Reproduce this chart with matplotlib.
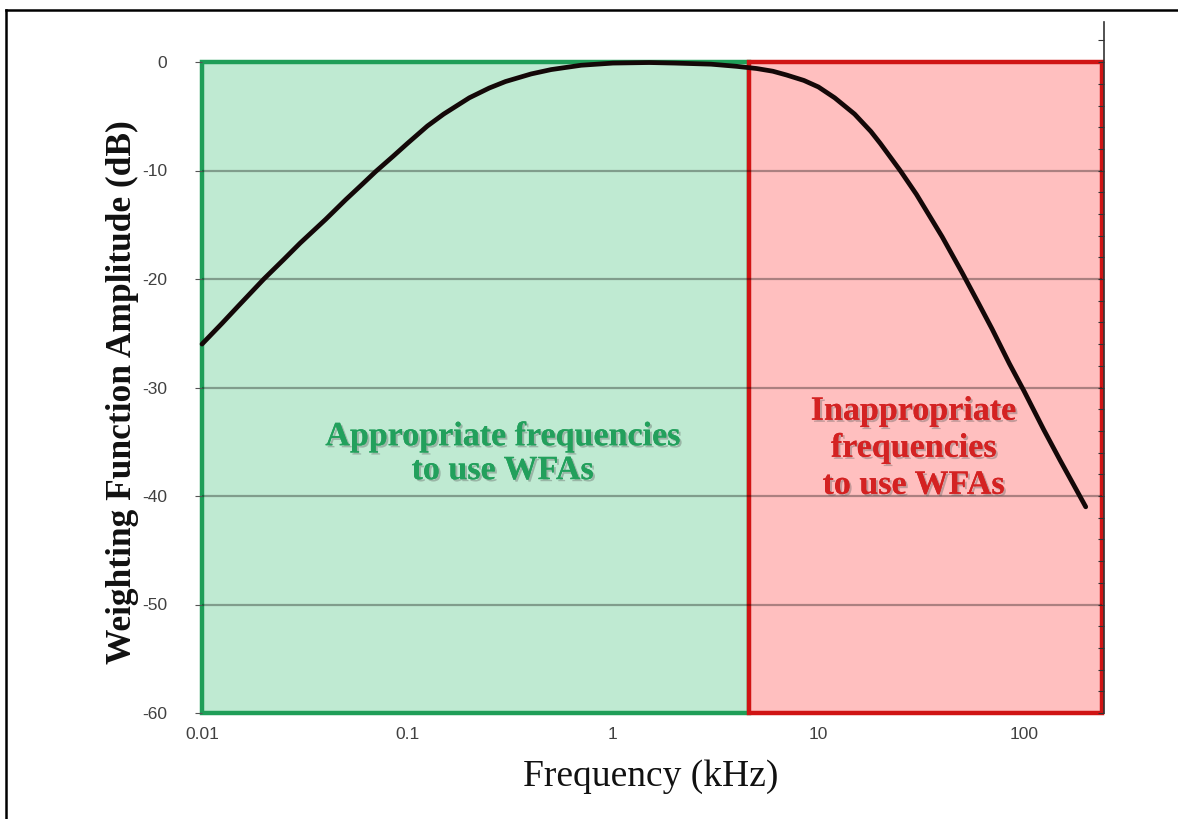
import numpy as np
import matplotlib.pyplot as plt
import matplotlib.patheffects as pe
from matplotlib.patches import Rectangle
from matplotlib.lines import Line2D

plt.rcParams['axes.unicode_minus'] = False

# curva da função de ponderação
freq_khz = [0.01, 0.0125, 0.015, 0.02, 0.025, 0.03, 0.04, 0.05, 0.06, 0.07, 0.085,
            0.1, 0.125, 0.15, 0.2, 0.25, 0.3, 0.4, 0.5, 0.7, 1, 1.5, 2, 3, 4,
            5, 6, 7, 8.5, 10, 12, 15, 18, 20, 25, 30, 40, 50, 60, 70, 85,
            100, 125, 150, 175, 200]
amp_db = [-26, -24.1, -22.5, -20, -18.2, -16.7, -14.5, -12.7, -11.3, -10.1, -8.7,
          -7.5, -5.9, -4.8, -3.3, -2.4, -1.8, -1.1, -0.7, -0.3, -0.1, -0.05, -0.1, -0.2, -0.4,
          -0.6, -0.85, -1.2, -1.7, -2.3, -3.3, -4.8, -6.4, -7.5, -10.0, -12.2, -16.1, -19.4,
          -22.2, -24.6, -27.8, -30.3, -33.9, -36.7, -39.0, -41]

x_min, x_split, x_max = 0.01, 4.6, 240
y_min, y_max = -60, 0
x_ticks = [0.01, 0.1, 1, 10, 100]
x_ticklabels = ['0.01', '0.1', '1', '10', '100']
y_ticks = [0, -10, -20, -30, -40, -50, -60]

green_fill, green_edge = '#bfead2', '#1f9e58'
red_fill, red_edge = '#ffbfbf', '#d01414'
serif = 'Liberation Serif'

fig = plt.figure(figsize=(11.78, 8.19), dpi=100)
ax = fig.add_axes([202/1178, 1-713/819, 900/1178, 651/819])

ax.set_xscale('log')
ax.set_xlim(x_min, x_max)
ax.set_ylim(y_min, y_max)

# regiões
ax.add_patch(Rectangle((x_min, y_min), x_split - x_min, y_max - y_min,
                       facecolor=green_fill, edgecolor=green_edge, lw=3.2,
                       zorder=1, clip_on=False))
ax.add_patch(Rectangle((x_split, y_min), x_max - x_split, y_max - y_min,
                       facecolor=red_fill, edgecolor=red_edge, lw=3.2,
                       zorder=1.2, clip_on=False))

# grade
for yv in y_ticks[1:-1]:
    ax.axhline(yv, color='black', alpha=0.33, lw=1.6, zorder=1.5)

ax.plot(freq_khz, amp_db, color='#140808', lw=3.4, zorder=3,
        solid_capstyle='round', solid_joinstyle='round', clip_on=False)

shadow = [pe.withSimplePatchShadow(offset=(1.5, -1.5), alpha=0.35, shadow_rgbFace='#555555'),
          pe.Normal()]
ax.text(0.29, -36.1, 'Appropriate frequencies\nto use WFAs', ha='center', va='center',
        color='#22a05c', fontsize=24.5, fontweight='bold', family=serif,
        linespacing=1.12, path_effects=shadow, zorder=4)
ax.text(29, -35.6, 'Inappropriate\nfrequencies\nto use WFAs', ha='center', va='center',
        color='#d42222', fontsize=24.5, fontweight='bold', family=serif,
        linespacing=1.25, path_effects=shadow, zorder=4)

for s in ax.spines.values():
    s.set_visible(False)

ax.set_xticks(x_ticks)
ax.set_xticklabels(x_ticklabels)
ax.xaxis.set_minor_locator(plt.NullLocator())
ax.set_yticks(y_ticks)
ax.tick_params(axis='x', length=0, pad=10, labelsize=12.5, labelcolor='#404040')
ax.tick_params(axis='y', length=5, color='#555555', pad=20, labelsize=12.5, labelcolor='#404040')
for lab in ax.get_xticklabels() + ax.get_yticklabels():
    lab.set_family('Liberation Sans')

ax.set_xlabel('Frequency (kHz)', family=serif, fontsize=27, color='#111111')
ax.xaxis.set_label_coords(0.498, -0.071)
ax.set_ylabel('Weighting Function Amplitude (dB)', family=serif, fontsize=25.5,
              fontweight='bold', color='#111111')
ax.yaxis.set_label_coords(-0.07, 0.493)

# eixo secundário à direita
axr = fig.add_axes([1096/1178, 1-713/819, 8/1178, 691/819])
axr.set_ylim(-60, 3.7)
axr.patch.set_visible(False)
for k in ['left', 'top', 'bottom']:
    axr.spines[k].set_visible(False)
axr.spines['right'].set_color('#333333')
axr.spines['right'].set_linewidth(1.2)
axr.set_xticks([])
axr.set_yticks(np.arange(-60, 3, 2))
axr.yaxis.tick_right()
axr.tick_params(axis='y', direction='in', length=4, color='#333333', labelright=False)

# moldura
fig.add_artist(Line2D([6/1178, 1], [1-10/819, 1-10/819], color='black', lw=1.8))
fig.add_artist(Line2D([6/1178, 6/1178], [0, 1-10/819], color='black', lw=1.8))

plt.savefig('out.png', dpi=100)
